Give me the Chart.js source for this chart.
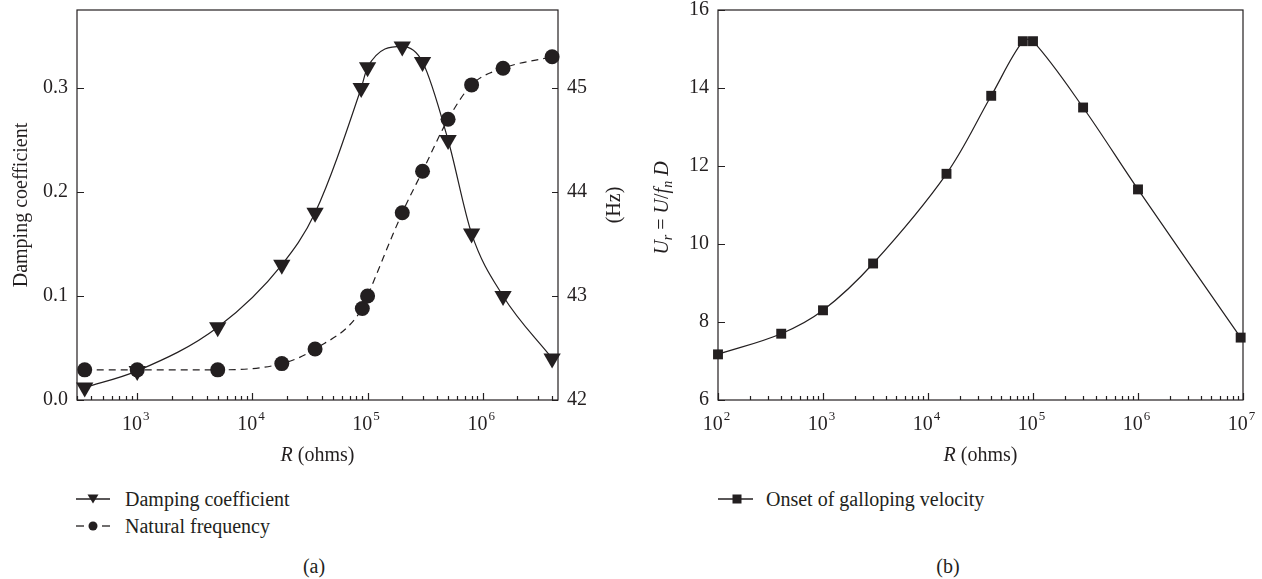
<!DOCTYPE html>
<html lang="en">
<head>
<meta charset="UTF-8">
<title>Damping, natural frequency and galloping onset vs R</title>
<script src="https://cdn.jsdelivr.net/npm/chart.js"></script>
<style>
  body { margin: 0; background: #fff; width: 1262px; height: 579px; overflow: hidden; position: relative;
         font-family: 'Liberation Serif', 'DejaVu Serif', serif; color: #231f20; }
  .box { position: absolute; top: 0; }
  .leg { position: absolute; font-size: 20px; line-height: 24px; white-space: nowrap; }
  .cap { position: absolute; font-size: 20px; line-height: 24px; transform: translate(-50%, -50%); }
</style>
</head>
<body>

<div class="box" style="left:0;width:640px;height:480px"><canvas id="chartA" width="640" height="480"></canvas></div>
<div class="box" style="left:640px;width:622px;height:480px"><canvas id="chartB" width="622" height="480"></canvas></div>

<!-- legends -->
<svg style="position:absolute;left:76px;top:490px" width="36" height="18">
  <line x1="0" y1="9" x2="34" y2="9" stroke="#231f20" stroke-width="1.3"/>
  <polygon points="11.5,4.5 22.5,4.5 17,13.5" fill="#231f20"/>
</svg>
<div class="leg" style="left:125px;top:487px">Damping coefficient</div>
<svg style="position:absolute;left:76px;top:517px" width="36" height="18">
  <line x1="0" y1="9" x2="8" y2="9" stroke="#231f20" stroke-width="1.3"/>
  <circle cx="17" cy="9" r="4.5" fill="#231f20"/>
  <line x1="26" y1="9" x2="34" y2="9" stroke="#231f20" stroke-width="1.3"/>
</svg>
<div class="leg" style="left:125px;top:514px">Natural frequency</div>

<svg style="position:absolute;left:718px;top:490px" width="36" height="18">
  <line x1="0" y1="9" x2="35" y2="9" stroke="#231f20" stroke-width="1.3"/>
  <rect x="14.5" y="4.5" width="9" height="9" fill="#231f20"/>
</svg>
<div class="leg" style="left:766px;top:487px">Onset of galloping velocity</div>

<div class="cap" style="left:314px;top:566px">(a)</div>
<div class="cap" style="left:948px;top:566px">(b)</div>

<script>
  // ---- data ----
  // (a) damping coefficient and natural frequency vs load resistance
  const dampR = [350, 1000, 5000, 18000, 35000, 88000, 100000, 200000, 300000, 500000, 800000, 1500000, 4000000];
  const dampCoef = [0.012, 0.028, 0.07, 0.13, 0.18, 0.30, 0.32, 0.34, 0.325, 0.25, 0.16, 0.10, 0.04];
  const freqR = [350, 1000, 5000, 18000, 35000, 90000, 100000, 200000, 300000, 500000, 800000, 1500000, 4000000];
  const freqHz = [42.29, 42.29, 42.29, 42.35, 42.49, 42.88, 43.0, 43.8, 44.2, 44.7, 45.03, 45.19, 45.3];

  // (b) onset of galloping velocity vs load resistance
  const gallopR = [100, 400, 1000, 3000, 15000, 40000, 80000, 100000, 300000, 1000000, 9500000];
  const gallopUr = [7.17, 7.7, 8.3, 9.5, 11.8, 13.8, 15.2, 15.2, 13.5, 11.4, 7.6];

  // tick labels
  const dampTicks = [0, 0.1, 0.2, 0.3];
  const freqTicks = [42, 43, 44, 45];
  const urTicks = [6, 8, 10, 12, 14, 16];
  const decadesA = [1e3, 1e4, 1e5, 1e6];
  const decadesB = [1e2, 1e3, 1e4, 1e5, 1e6, 1e7];

  const ink = '#231f20';
  const serif = "'Liberation Serif', 'DejaVu Serif', serif";

  function minorsFor(min, max) {
    const out = [];
    for (let e = Math.floor(Math.log10(min)); e <= Math.ceil(Math.log10(max)); e++) {
      for (let k = 2; k <= 9; k++) {
        const v = k * Math.pow(10, e);
        if (v >= min && v <= max) out.push(v);
      }
    }
    return out;
  }

  // draws a run of text pieces (italic / subscript) centred on 0
  function drawPieces(ctx, pieces) {
    const fontFor = p => (p.it ? 'italic ' : '') + (p.sub ? '14px ' : '20px ') + serif;
    let w = 0;
    pieces.forEach(p => { ctx.font = fontFor(p); p.w = ctx.measureText(p.t).width; w += p.w; });
    let x = -w / 2;
    ctx.textBaseline = 'middle';
    ctx.textAlign = 'left';
    pieces.forEach(p => {
      ctx.font = fontFor(p);
      ctx.fillText(p.t, x, p.sub ? 5 : 0);
      x += p.w;
    });
  }

  // frame, inward ticks, power-of-ten labels and axis titles
  const axisDecor = {
    id: 'axisDecor',
    beforeDatasetsDraw(chart, args, opts) {
      const ctx = chart.ctx;
      const a = chart.chartArea;
      const xs = chart.scales.x;
      ctx.save();
      ctx.strokeStyle = ink;
      ctx.fillStyle = ink;
      ctx.lineWidth = 1.2;
      ctx.strokeRect(a.left, a.top, a.right - a.left, a.bottom - a.top);

      ctx.beginPath();
      opts.decades.forEach(v => {
        const px = Math.round(xs.getPixelForValue(v)) + 0.5;
        ctx.moveTo(px, a.bottom); ctx.lineTo(px, a.bottom - 7);
      });
      minorsFor(xs.min, xs.max).forEach(v => {
        const px = Math.round(xs.getPixelForValue(v)) + 0.5;
        ctx.moveTo(px, a.bottom); ctx.lineTo(px, a.bottom - 4);
      });
      opts.leftTicks.forEach(v => {
        const py = Math.round(chart.scales.y.getPixelForValue(v)) + 0.5;
        ctx.moveTo(a.left, py); ctx.lineTo(a.left + 7, py);
      });
      if (opts.rightTicks) {
        opts.rightTicks.forEach(v => {
          const py = Math.round(chart.scales.y1.getPixelForValue(v)) + 0.5;
          ctx.moveTo(a.right, py); ctx.lineTo(a.right - 6, py);
        });
      }
      ctx.stroke();

      // 10^n labels under the decades
      ctx.textAlign = 'left';
      ctx.textBaseline = 'alphabetic';
      opts.decades.forEach(v => {
        const px = xs.getPixelForValue(v);
        const exp = String(Math.round(Math.log10(v)));
        ctx.font = '20px ' + serif;
        const w1 = ctx.measureText('10').width;
        ctx.font = '13px ' + serif;
        const w2 = ctx.measureText(exp).width;
        const x0 = px - (w1 + w2) / 2 - 2;
        ctx.font = '20px ' + serif;
        ctx.fillText('10', x0, a.bottom + 30);
        ctx.font = '13px ' + serif;
        ctx.fillText(exp, x0 + w1 + 1, a.bottom + 20);
      });

      // x title
      ctx.save();
      ctx.translate((a.left + a.right) / 2, 456);
      drawPieces(ctx, [{ t: 'R', it: true }, { t: ' (ohms)' }]);
      ctx.restore();

      // y titles
      opts.yTitles.forEach(tt => {
        ctx.save();
        ctx.translate(tt.x, (a.top + a.bottom) / 2 + (tt.dy || 0));
        ctx.rotate(-Math.PI / 2);
        drawPieces(ctx, tt.pieces);
        ctx.restore();
      });
      ctx.restore();
    }
  };

  Chart.register(axisDecor);

  function tickFont() {
    return { family: serif, size: 20 };
  }

  function xScale(min, max, decades) {
    return {
      type: 'logarithmic',
      min: min,
      max: max,
      grid: { display: false, drawTicks: false },
      border: { display: false },
      afterBuildTicks: s => { s.ticks = decades.map(v => ({ value: v })); },
      afterFit: s => { s.height = 80; s.paddingLeft = 0; s.paddingRight = 0; },
      ticks: { display: false }
    };
  }

  function yScale(pos, min, max, ticks, width, fmt) {
    return {
      type: 'linear',
      position: pos,
      min: min,
      max: max,
      grid: { display: false, drawTicks: false },
      border: { display: false },
      afterBuildTicks: s => { s.ticks = ticks.map(v => ({ value: v })); },
      afterFit: s => { s.width = width; s.paddingTop = 0; s.paddingBottom = 0; },
      ticks: { padding: 9, color: ink, font: tickFont(), callback: fmt }
    };
  }

  const common = {
    responsive: false,
    animation: false,
    events: [],
    devicePixelRatio: 1,
    plugins: { legend: { display: false }, tooltip: { enabled: false } }
  };

  new Chart(document.getElementById('chartA'), {
    type: 'line',
    data: {
      datasets: [
        {
          label: 'Damping coefficient',
          data: dampR.map((r, i) => ({ x: r, y: dampCoef[i] })),
          yAxisID: 'y',
          borderColor: ink, borderWidth: 1.2,
          cubicInterpolationMode: 'monotone',
          pointStyle: 'triangle', pointRotation: 180, pointRadius: 10,
          pointBackgroundColor: ink, pointBorderWidth: 0,
          clip: false
        },
        {
          label: 'Natural frequency',
          data: freqR.map((r, i) => ({ x: r, y: freqHz[i] })),
          yAxisID: 'y1',
          borderColor: ink, borderWidth: 1.2, borderDash: [7, 5],
          cubicInterpolationMode: 'monotone',
          pointStyle: 'circle', pointRadius: 7.5,
          pointBackgroundColor: ink, pointBorderWidth: 0,
          clip: false
        }
      ]
    },
    options: Object.assign({}, common, {
      layout: { padding: { top: 10, left: 0, right: 0, bottom: 0 } },
      scales: {
        x: xScale(300, 4.5e6, decadesA),
        y: yScale('left', 0, 0.375, dampTicks, 77, v => v.toFixed(1)),
        y1: yScale('right', 42, 45.75, freqTicks, 82, v => String(v))
      },
      plugins: Object.assign({}, common.plugins, {
        axisDecor: {
          decades: decadesA,
          leftTicks: dampTicks,
          rightTicks: freqTicks,
          yTitles: [
            { x: 22, pieces: [{ t: 'Damping coefficient' }] },
            { x: 615, pieces: [{ t: '(Hz)' }] }
          ]
        }
      })
    })
  });

  new Chart(document.getElementById('chartB'), {
    type: 'line',
    data: {
      datasets: [
        {
          label: 'Onset of galloping velocity',
          data: gallopR.map((r, i) => ({ x: r, y: gallopUr[i] })),
          borderColor: ink, borderWidth: 1.2,
          tension: 0.35,
          pointStyle: 'rect', pointRadius: 7,
          pointBackgroundColor: ink, pointBorderWidth: 0,
          clip: false
        }
      ]
    },
    options: Object.assign({}, common, {
      layout: { padding: { top: 10, left: 0, right: 19, bottom: 0 } },
      scales: {
        x: xScale(100, 1e7, decadesB),
        y: yScale('left', 6, 16, urTicks, 78, v => String(v))
      },
      plugins: Object.assign({}, common.plugins, {
        axisDecor: {
          decades: decadesB,
          leftTicks: urTicks,
          yTitles: [
            {
              x: 23, dy: 3,
              pieces: [
                { t: 'U', it: true }, { t: 'r', it: true, sub: true }, { t: ' = ' },
                { t: 'U', it: true }, { t: '/' }, { t: 'f', it: true },
                { t: 'n', it: true, sub: true }, { t: ' ' }, { t: 'D', it: true }
              ]
            }
          ]
        }
      })
    })
  });
</script>
</body>
</html>
